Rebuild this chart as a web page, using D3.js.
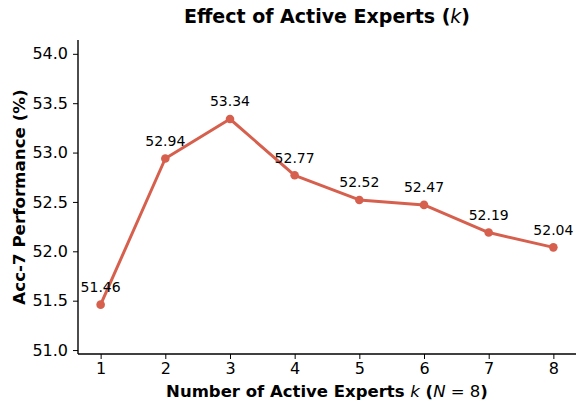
<!DOCTYPE html>
<html>
<head>
<meta charset="utf-8">
<script src="https://cdn.jsdelivr.net/npm/d3@7"></script>
<style>
  html, body { margin: 0; padding: 0; background: #fff; }
  svg { display: block; font-family: "DejaVu Sans", sans-serif; }
</style>
</head>
<body>
<svg id="chart" width="576" height="407"></svg>
<script>
// Accuracy for each number of active experts k (out of N = 8)
const activeExperts = [1, 2, 3, 4, 5, 6, 7, 8];
const accuracy = [51.46, 52.94, 53.34, 52.77, 52.52, 52.47, 52.19, 52.04];
const yTicks = [51.0, 51.5, 52.0, 52.5, 53.0, 53.5, 54.0];

const lineColor = "#d6604d";
const svg = d3.select("#chart");

const plot = { left: 78, right: 576, top: 40, bottom: 354 };

// x padded by 5% of the data range; y padded below by 0.5 and above by 0.8
const xMin = d3.min(activeExperts), xMax = d3.max(activeExperts);
const xPad = (xMax - xMin) * 0.05;
const x = d3.scaleLinear()
  .domain([xMin - xPad, xMax + xPad])
  .range([plot.left, plot.right]);

const y = d3.scaleLinear()
  .domain([d3.min(accuracy) - 0.5, d3.max(accuracy) + 0.8])
  .range([plot.bottom, plot.top]);

const data = activeExperts.map((k, i) => ({ k, v: accuracy[i] }));

// Axes
const xAxis = d3.axisBottom(x).tickValues(activeExperts).tickFormat(d3.format("d"))
  .tickSize(5).tickPadding(4).tickSizeOuter(0);
const yAxis = d3.axisLeft(y).tickValues(yTicks).tickFormat(d3.format(".1f"))
  .tickSize(5).tickPadding(5).tickSizeOuter(0);

const gx = svg.append("g").attr("transform", `translate(0,${plot.bottom})`).call(xAxis);
const gy = svg.append("g").attr("transform", `translate(${plot.left},0)`).call(yAxis);

[gx, gy].forEach(g => {
  g.select(".domain").attr("stroke", "#000").attr("stroke-width", 1.4);
  g.selectAll(".tick line").attr("stroke", "#000").attr("stroke-width", 1);
  g.selectAll(".tick text")
    .attr("fill", "#000")
    .style("font-family", "'DejaVu Sans', sans-serif")
    .style("font-size", "16px");
});
gx.select(".domain").attr("d", `M${plot.left},0H${plot.right}`);
gy.select(".domain").attr("d", `M0,${plot.bottom}V${plot.top}`);

// Line and markers
const line = d3.line().x(d => x(d.k)).y(d => y(d.v));
svg.append("path")
  .datum(data)
  .attr("d", line)
  .attr("fill", "none")
  .attr("stroke", lineColor)
  .attr("stroke-width", 3)
  .attr("stroke-linejoin", "round")
  .attr("stroke-linecap", "round");

svg.append("g").selectAll("circle")
  .data(data)
  .join("circle")
  .attr("cx", d => x(d.k))
  .attr("cy", d => y(d.v))
  .attr("r", 4.3)
  .attr("fill", lineColor);

// Value labels above each point
svg.append("g").selectAll("text")
  .data(data)
  .join("text")
  .attr("x", d => x(d.k))
  .attr("y", d => y(d.v) - 12.5)
  .attr("text-anchor", "middle")
  .attr("fill", "#000")
  .style("font-size", "14px")
  .text(d => d.v.toFixed(2));

// Title
const title = svg.append("text")
  .attr("x", (plot.left + plot.right) / 2)
  .attr("y", 23)
  .attr("text-anchor", "middle")
  .attr("fill", "#000")
  .style("font-size", "19px")
  .style("font-weight", "bold");
title.append("tspan").text("Effect of Active Experts (");
title.append("tspan").text("k").style("font-style", "italic").style("font-weight", "normal");
title.append("tspan").text(")");

// X axis label
const xLabel = svg.append("text")
  .attr("x", (plot.left + plot.right) / 2)
  .attr("y", 397)
  .attr("text-anchor", "middle")
  .attr("fill", "#000")
  .style("font-size", "16.5px")
  .style("font-weight", "bold");
xLabel.append("tspan").text("Number of Active Experts ");
xLabel.append("tspan").text("k").style("font-style", "italic").style("font-weight", "normal");
xLabel.append("tspan").text(" (");
xLabel.append("tspan").text("N").style("font-style", "italic").style("font-weight", "normal");
xLabel.append("tspan").text(" = 8").style("font-weight", "normal");
xLabel.append("tspan").text(")");

// Y axis label
svg.append("text")
  .attr("transform", `translate(25,${(plot.top + plot.bottom) / 2}) rotate(-90)`)
  .attr("text-anchor", "middle")
  .attr("fill", "#000")
  .style("font-size", "16.7px")
  .style("font-weight", "bold")
  .text("Acc-7 Performance (%)");
</script>
</body>
</html>
